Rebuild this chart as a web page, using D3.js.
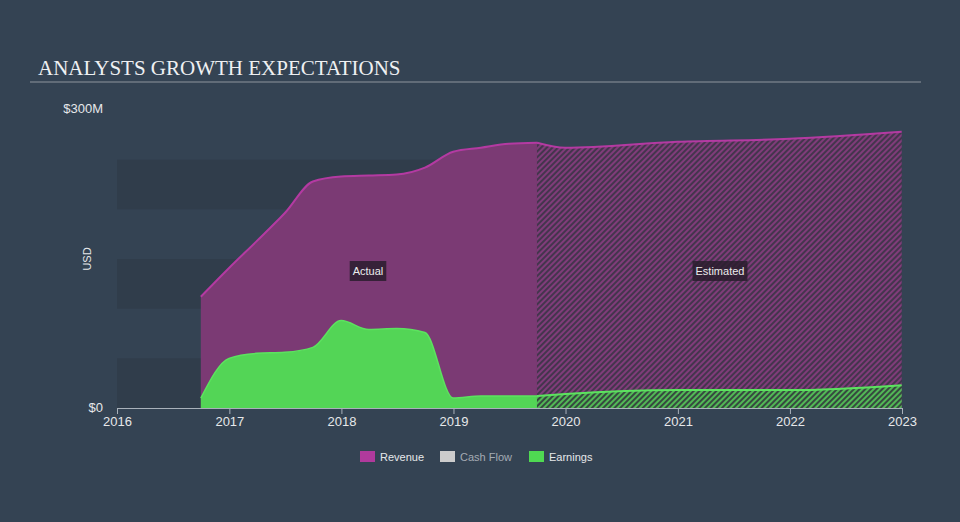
<!DOCTYPE html>
<html><head><meta charset="utf-8">
<script src="https://cdn.jsdelivr.net/npm/d3@7"></script>
<style>
html,body{margin:0;padding:0;background:#344353;}
svg{display:block;}
</style></head>
<body>
<svg id="chart" width="960" height="522"></svg>
<script>
// ---- data ----
const actualDates = ["2016-09-30","2016-12-31","2017-03-31","2017-06-30","2017-09-30","2017-12-31","2018-03-31","2018-06-30","2018-09-30","2018-12-31","2019-03-31","2019-06-30","2019-09-30"];
const revenueActual = [112,141,168,196,228,233,234,235,242,258,262,266,267];
const earningsActual = [10,50,55,56,61,88,79,80,76,10,12,12,12];
const estimateDates = ["2019-09-30","2019-12-31","2020-12-31","2021-12-31","2022-12-31"];
const revenueEstimate = [267,262,268,271,278];
const earningsEstimate = [12,14,18,18,23];
const xTickYears = [2016,2017,2018,2019,2020,2021,2022,2023];
const yTickLabels = ["$0","$300M"];
const legendItems = ["Revenue","Cash Flow","Earnings"];

const parse = d3.timeParse("%Y-%m-%d");
const svg = d3.select("#chart");
const W = 960, H = 522;
const plot = {left:117, right:902, top:110, bottom:408};

const x = d3.scaleTime().domain([new Date(2016,0,1), new Date(2023,0,1)]).range([plot.left, plot.right]);
const y = d3.scaleLinear().domain([0,300]).range([plot.bottom, plot.top]);

const defs = svg.append("defs");
const pr = defs.append("pattern").attr("id","hatchRev").attr("patternUnits","userSpaceOnUse")
  .attr("width",4).attr("height",4).attr("patternTransform","rotate(45)");
pr.append("rect").attr("width",4).attr("height",4).attr("fill","#44354d");
pr.append("rect").attr("width",2).attr("height",4).attr("fill","#803c7a");
const pe = defs.append("pattern").attr("id","hatchEarn").attr("patternUnits","userSpaceOnUse")
  .attr("width",4).attr("height",4).attr("patternTransform","rotate(45)");
pe.append("rect").attr("width",4).attr("height",4).attr("fill","#36493f");
pe.append("rect").attr("width",2).attr("height",4).attr("fill","#52b856");

// background
svg.append("rect").attr("width",W).attr("height",H).attr("fill","#344353");

// title
svg.append("text").attr("x",38).attr("y",75).text("ANALYSTS GROWTH EXPECTATIONS")
  .attr("font-family","'Liberation Serif', 'DejaVu Serif', serif").attr("font-size",21)
  .attr("fill","#eef0f2");
svg.append("line").attr("x1",30).attr("x2",921).attr("y1",82).attr("y2",82)
  .attr("stroke","#8d959e").attr("stroke-width",1.2);

// bands
const bands = [[0,50],[100,150],[200,250]];
svg.append("g").selectAll("rect").data(bands).join("rect")
  .attr("x",plot.left).attr("width",plot.right-plot.left)
  .attr("y",d=>y(d[1])).attr("height",d=>y(d[0])-y(d[1]))
  .attr("fill","#303d4b");

const curve = d3.curveMonotoneX;
const actR = actualDates.map((d,i)=>({date:parse(d), v:revenueActual[i]}));
const actE = actualDates.map((d,i)=>({date:parse(d), v:earningsActual[i]}));
const estR = estimateDates.map((d,i)=>({date:parse(d), v:revenueEstimate[i]}));
const estE = estimateDates.map((d,i)=>({date:parse(d), v:earningsEstimate[i]}));

const area = d3.area().x(d=>x(d.date)).y0(y(0)).y1(d=>y(d.v)).curve(curve);
const line = d3.line().x(d=>x(d.date)).y(d=>y(d.v)).curve(curve);

// revenue
svg.append("path").datum(actR).attr("d",area).attr("fill","#7b3a74");
svg.append("path").datum(estR).attr("d",area).attr("fill","url(#hatchRev)");
svg.append("path").datum(actR).attr("d",line).attr("fill","none").attr("stroke","#b43aa2").attr("stroke-width",2);
svg.append("path").datum(estR).attr("d",line).attr("fill","none").attr("stroke","#b43aa2").attr("stroke-width",2);
// earnings
svg.append("path").datum(actE).attr("d",area).attr("fill","#53d556");
svg.append("path").datum(estE).attr("d",area).attr("fill","url(#hatchEarn)");
svg.append("path").datum(actE).attr("d",line).attr("fill","none").attr("stroke","#5ce35f").attr("stroke-width",1.5);
svg.append("path").datum(estE).attr("d",line).attr("fill","none").attr("stroke","#5ce35f").attr("stroke-width",2);

// x axis
const xAxis = d3.axisBottom(x).tickValues(xTickYears.map(yr=>new Date(yr,0,1)))
  .tickFormat(d3.timeFormat("%Y")).tickSize(6).tickSizeOuter(0);
const gx = svg.append("g").attr("transform",`translate(0,${plot.bottom})`).call(xAxis);
gx.select(".domain").attr("stroke","#a9b1ba");
gx.selectAll(".tick line").attr("stroke","#a9b1ba").attr("y1",0).attr("y2",6);
gx.selectAll(".tick text").attr("fill","#e6e8ea").attr("font-size",13)
  .attr("font-family","'Liberation Sans', Arial, sans-serif").attr("dy","0.85em").attr("y",7);

// y labels
svg.append("g").selectAll("text").data([0,300]).join("text")
  .attr("x",103).attr("y",d=>y(d)+(d===0?4:3)).attr("text-anchor","end")
  .text((d,i)=>yTickLabels[i]).attr("fill","#e6e8ea").attr("font-size",13)
  .attr("font-family","'Liberation Sans', Arial, sans-serif");
svg.append("text").attr("transform","translate(91,259) rotate(-90)").attr("text-anchor","middle")
  .text("USD").attr("fill","#e6e8ea").attr("font-size",11)
  .attr("font-family","'Liberation Sans', Arial, sans-serif");

// labels
function tag(cx, cy, txt){
  const g = svg.append("g");
  const t = g.append("text").attr("x",cx).attr("y",cy+4).attr("text-anchor","middle")
    .text(txt).attr("fill","#ececec").attr("font-size",11)
    .attr("font-family","'Liberation Sans', Arial, sans-serif");
  const bb = t.node().getBBox();
  g.insert("rect","text").attr("x",bb.x-3).attr("y",cy-10).attr("width",bb.width+6).attr("height",20)
    .attr("fill","#2a1d2e").attr("opacity",0.85);
}
tag(368,271,"Actual");
tag(720,271,"Estimated");

// legend
const legColors = ["#b03a9c","#cccccc","#4fd952"];
const legX = [360,440,529];
const lg = svg.append("g");
legendItems.forEach((name,i)=>{
  lg.append("rect").attr("x",legX[i]).attr("y",451).attr("width",15).attr("height",11).attr("fill",legColors[i]);
  lg.append("text").attr("x",legX[i]+20).attr("y",461).text(name)
    .attr("fill", i===1?"#a4abb3":"#e6e8ea").attr("font-size",11)
    .attr("font-family","'Liberation Sans', Arial, sans-serif");
});
</script>
</body></html>
